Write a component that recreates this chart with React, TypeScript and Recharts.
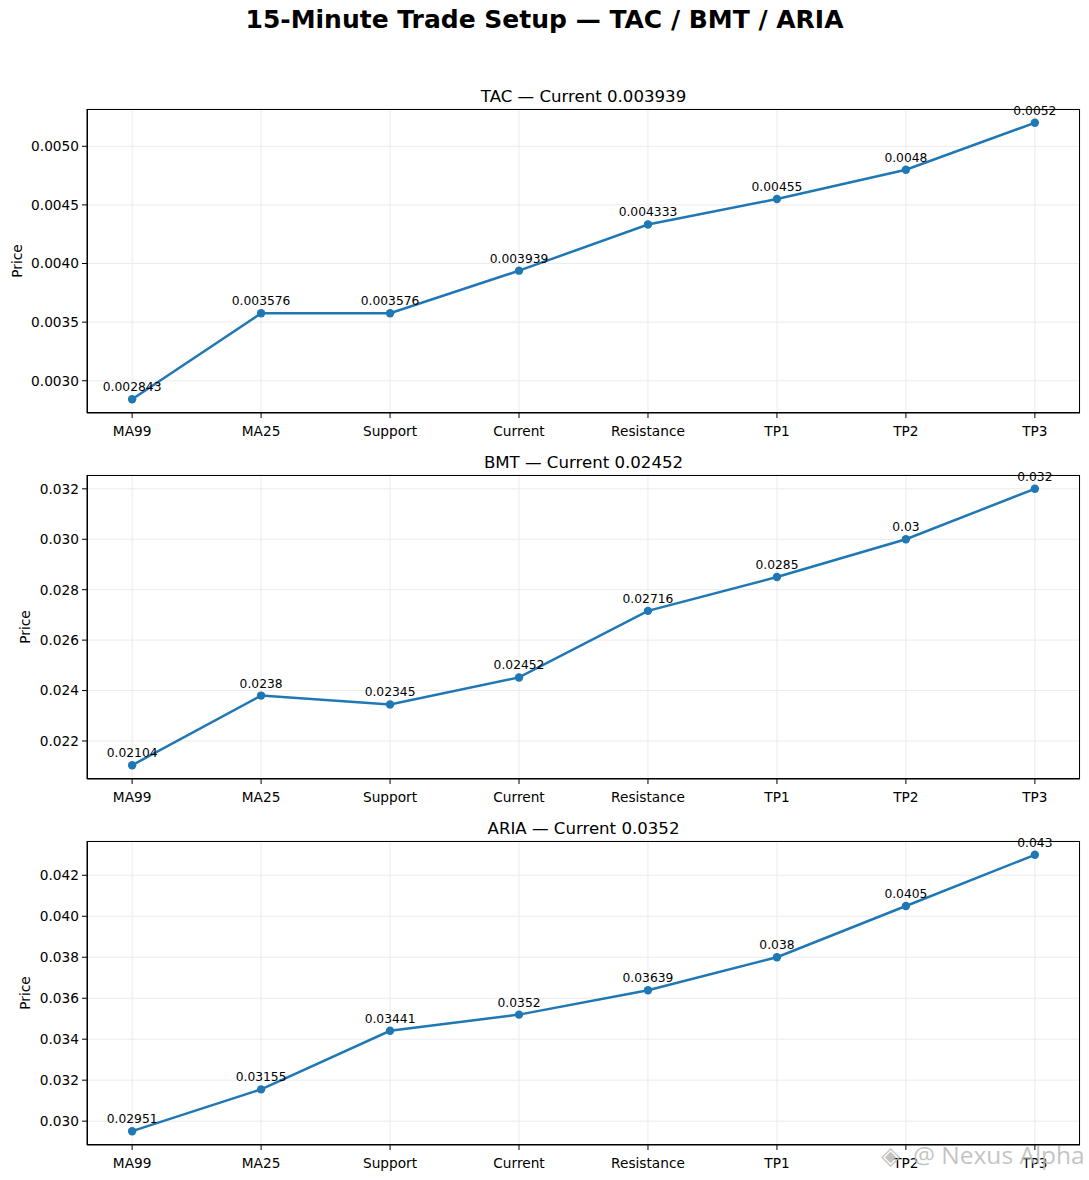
import React from "react";
import {
  LineChart,
  Line,
  XAxis,
  YAxis,
  CartesianGrid,
  LabelList,
} from "recharts";

const LEVELS = ["MA99", "MA25", "Support", "Current", "Resistance", "TP1", "TP2", "TP3"];

const TAC_PRICES = [0.002843, 0.003576, 0.003576, 0.003939, 0.004333, 0.00455, 0.0048, 0.0052];
const BMT_PRICES = [0.02104, 0.0238, 0.02345, 0.02452, 0.02716, 0.0285, 0.03, 0.032];
const ARIA_PRICES = [0.02951, 0.03155, 0.03441, 0.0352, 0.03639, 0.038, 0.0405, 0.043];

const TAC_TICKS = [0.003, 0.0035, 0.004, 0.0045, 0.005];
const BMT_TICKS = [0.022, 0.024, 0.026, 0.028, 0.03, 0.032];
const ARIA_TICKS = [0.03, 0.032, 0.034, 0.036, 0.038, 0.04, 0.042];

const BLUE = "#1f77b4";
const FONT = "'DejaVu Sans', sans-serif";

// matplotlib-style 5% margins
const pad = (vals: number[]): [number, number] => {
  const lo = Math.min(...vals);
  const hi = Math.max(...vals);
  const m = (hi - lo) * 0.05;
  return [lo - m, hi + m];
};

const PriceLabel = ({ viewBox, px }: any) => {
  const cy = viewBox.y + viewBox.height / 2;
  return (
    <text
      x={px}
      y={cy}
      transform={`rotate(-90 ${px} ${cy})`}
      textAnchor="middle"
      dominantBaseline="central"
      fontSize={13.7}
      fontFamily={FONT}
      fill="#000"
    >
      Price
    </text>
  );
};

function Panel({
  title,
  prices,
  ticks,
  digits,
  top,
  labelX,
}: {
  title: string;
  prices: number[];
  ticks: number[];
  digits: number;
  top: number;
  labelX: number;
}) {
  const data = LEVELS.map((name, i) => ({ x: i, name, price: prices[i] }));
  return (
    <div style={{ position: "absolute", left: 0, top: top - 40, width: 1089, height: 380 }}>
      <div
        style={{
          position: "absolute",
          left: 87,
          width: 993,
          top: 18,
          textAlign: "center",
          fontSize: 16.6,
          lineHeight: "20px",
          fontFamily: FONT,
          color: "#000",
        }}
      >
        {title}
      </div>
      <LineChart width={1089} height={380} data={data} margin={{ top: 40, right: 9, bottom: 0, left: 0 }}>
        <CartesianGrid stroke="#ebebeb" strokeWidth={1} />
        <XAxis
          dataKey="x"
          type="number"
          domain={[-0.35, 7.35]}
          ticks={[0, 1, 2, 3, 4, 5, 6, 7]}
          tickFormatter={(v: number) => LEVELS[v]}
          height={36}
          tickSize={5}
          tickMargin={8}
          stroke="#000"
          tick={{ fill: "#000", fontSize: 13.7, fontFamily: FONT }}
          interval={0}
        />
        <YAxis
          type="number"
          domain={pad(prices)}
          ticks={ticks}
          allowDataOverflow
          width={87}
          tickSize={5}
          tickMargin={3}
          stroke="#000"
          tick={{ fill: "#000", fontSize: 13.7, fontFamily: FONT }}
          tickFormatter={(v: number) => v.toFixed(digits)}
          label={<PriceLabel px={labelX} />}
        />
        <Line
          type="linear"
          dataKey="price"
          stroke={BLUE}
          strokeWidth={2.5}
          dot={{ r: 4.2, fill: BLUE, stroke: BLUE, strokeWidth: 0 }}
          isAnimationActive={false}
        >
          <LabelList
            dataKey="price"
            position="top"
            offset={8}
            formatter={(v: number) => String(v)}
            style={{ fontSize: 12.3, fontFamily: FONT, fill: "#000" }}
          />
        </Line>
      </LineChart>
      {/* axes frame (matplotlib spines) */}
      <div
        style={{
          position: "absolute",
          left: 86.5,
          top: 39.5,
          width: 993,
          height: 304,
          border: "1.2px solid #000",
          boxSizing: "border-box",
          pointerEvents: "none",
        }}
      />
    </div>
  );
}

export default function App() {
  document.body.style.margin = "0";
  return (
    <div style={{ position: "relative", width: 1089, height: 1180, background: "#fff", overflow: "hidden" }}>
      <div
        style={{
          position: "absolute",
          top: 5,
          left: 0,
          width: 1089,
          textAlign: "center",
          fontWeight: "bold",
          fontSize: 25,
          lineHeight: "30px",
          fontFamily: FONT,
          color: "#000",
        }}
      >
        15-Minute Trade Setup — TAC / BMT / ARIA
      </div>
      <Panel title="TAC — Current 0.003939" prices={TAC_PRICES} ticks={TAC_TICKS} digits={4} top={109} labelX={17} />
      <Panel title="BMT — Current 0.02452" prices={BMT_PRICES} ticks={BMT_TICKS} digits={3} top={475} labelX={25} />
      <Panel title="ARIA — Current 0.0352" prices={ARIA_PRICES} ticks={ARIA_TICKS} digits={3} top={841} labelX={25} />
      <div
        style={{
          position: "absolute",
          left: 881,
          top: 1140,
          fontSize: 24.5,
          lineHeight: "30px",
          fontFamily: "'Open Sans', sans-serif",
          color: "rgba(185,185,185,0.85)",
          whiteSpace: "nowrap",
        }}
      >
        <span style={{ display: "inline-block", width: 32 }}>◈</span>@ Nexus Alpha
      </div>
    </div>
  );
}
